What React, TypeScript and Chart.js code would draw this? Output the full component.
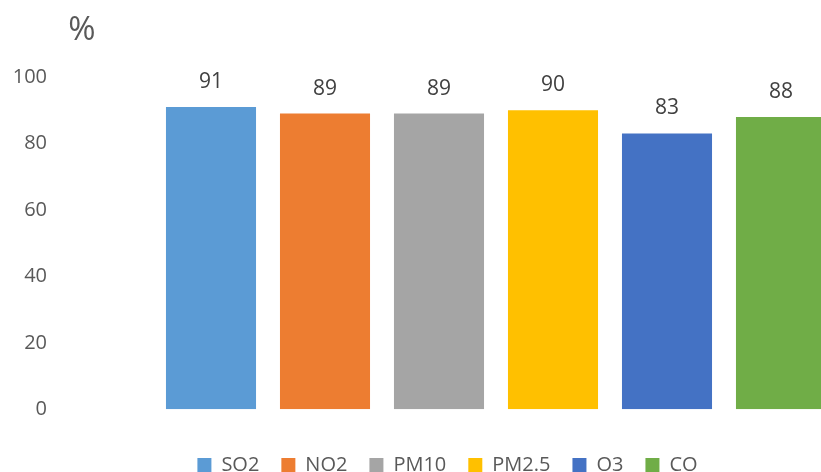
import React, { useEffect, useRef } from "react";
import { Chart, registerables } from "chart.js";

Chart.register(...registerables);

const categories = ["SO2", "NO2", "PM10", "PM2.5", "O3", "CO"];
const values = [91, 89, 89, 90, 83, 88];
const colors = ["#5B9BD5", "#ED7D31", "#A5A5A5", "#FFC000", "#4472C4", "#70AD47"];
const yTicks = [0, 20, 40, 60, 80, 100];
const unitLabel = "%";

const FONT = "'Open Sans', 'Noto Sans', sans-serif";
const TEXT = "#595959";

const labelsPlugin = {
  id: "barValueLabels",
  afterDatasetsDraw(chart: any) {
    const { ctx } = chart;
    const meta = chart.getDatasetMeta(0);
    ctx.save();
    ctx.font = `21px ${FONT}`;
    ctx.fillStyle = "#404040";
    ctx.textAlign = "center";
    ctx.textBaseline = "middle";
    meta.data.forEach((bar: any, i: number) => {
      ctx.fillText(String(values[i]), bar.x, bar.y - 25);
    });
    ctx.restore();
  },
};

const unitPlugin = {
  id: "unitLabel",
  afterDraw(chart: any) {
    const { ctx, chartArea } = chart;
    ctx.save();
    ctx.font = `33px ${FONT}`;
    ctx.fillStyle = TEXT;
    ctx.textAlign = "center";
    ctx.textBaseline = "middle";
    ctx.fillText(unitLabel, chartArea.left - 72, chartArea.top - 46);
    ctx.restore();
  },
};

const legendShiftPlugin = {
  id: "legendShift",
  afterLayout(chart: any) {
    if (chart.legend) chart.legend.left = 57;
  },
};

export default function App() {
  const ref = useRef<HTMLCanvasElement | null>(null);

  useEffect(() => {
    if (!ref.current) return;
    const chart = new Chart(ref.current, {
      type: "bar",
      data: {
        labels: categories,
        datasets: [
          {
            data: values,
            backgroundColor: colors,
            borderWidth: 0,
            categoryPercentage: 1,
            barPercentage: 0.79,
          },
        ],
      },
      options: {
        responsive: false,
        animation: false,
        devicePixelRatio: 1,
        layout: { padding: { top: 77, left: 0, right: 22, bottom: 0 } },
        scales: {
          x: { display: false },
          y: {
            min: 0,
            max: 100,
            afterFit(scale: any) {
              scale.width = 154;
              scale.paddingTop = 10;
              scale.paddingBottom = 10;
            },
            afterBuildTicks(scale: any) {
              scale.ticks = yTicks.map((v) => ({ value: v }));
            },
            grid: { display: false, drawTicks: false },
            border: { display: false },
            ticks: {
              padding: 107,
              color: TEXT,
              font: { family: FONT, size: 20 },
            },
          },
        },
        plugins: {
          tooltip: { enabled: false },
          legend: {
            position: "bottom",
            title: { display: true, text: "", font: { size: 10, lineHeight: 1 }, padding: { top: 13.7, bottom: 0 } },
            labels: {
              boxWidth: 14,
              boxHeight: 14,
              padding: 22,
              color: TEXT,
              font: { family: FONT, size: 20 },
              generateLabels: () =>
                categories.map((c, i) => ({
                  text: c,
                  fillStyle: colors[i],
                  strokeStyle: colors[i],
                  lineWidth: 0,
                  fontColor: TEXT,
                  hidden: false,
                  index: i,
                })),
            },
          },
        },
      },
      plugins: [labelsPlugin, unitPlugin, legendShiftPlugin],
    });
    return () => chart.destroy();
  }, []);

  return (
    <div
      style={{
        position: "fixed",
        left: 0,
        top: 0,
        width: 821,
        height: 472,
        overflow: "hidden",
        background: "#fff",
      }}
    >
      <canvas ref={ref} width={860} height={485} style={{ display: "block" }} />
    </div>
  );
}
